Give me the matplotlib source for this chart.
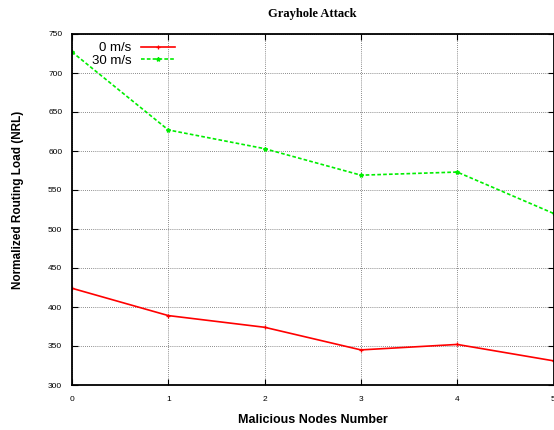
import matplotlib
matplotlib.use('Agg')
import matplotlib.pyplot as plt

# data
malicious_nodes = [0, 1, 2, 3, 4, 5]
nrl_0ms = [424, 389, 374, 345, 352, 331]
nrl_30ms = [727, 627, 603, 569, 573, 520]
series_labels = ['0 m/s', '30 m/s']
y_ticks = [300, 350, 400, 450, 500, 550, 600, 650, 700, 750]

plt.rcParams['font.family'] = ['Liberation Sans', 'DejaVu Sans']

fig = plt.figure(figsize=(5.54, 4.30), dpi=100)
ax = fig.add_axes([72 / 554, 45 / 430, 481.5 / 554, 351 / 430])

ax.plot(malicious_nodes, nrl_0ms, color='#ff0000', lw=1.2, marker='+',
        markersize=3, markeredgewidth=0.9, label=series_labels[0])
ax.plot(malicious_nodes, nrl_30ms, color='#00ee00', lw=1.2, ls=(0, (2.2, 1.3)),
        marker='*', markersize=3, label=series_labels[1])

ax.set_xlim(0, 5)
ax.set_ylim(300, 750)
ax.set_xticks(malicious_nodes)
ax.set_yticks(y_ticks)
ax.tick_params(direction='in', top=True, right=True, length=4, width=0.8,
               labelsize=6, pad=8, colors='black')
ax.tick_params(axis='y', pad=7)
for s in ax.spines.values():
    s.set_linewidth(1.3)

ax.grid(True, color='0.4', ls=(0, (1, 1.5)), lw=0.6)
ax.set_axisbelow(True)

ax.set_xlabel('Malicious Nodes Number', fontsize=9, fontweight='bold', labelpad=8)
ax.set_ylabel('Normalized Routing Load (NRL)', fontsize=8.5, fontweight='bold')
ax.yaxis.set_label_coords(-48 / 481.5, (385 - 200) / 351)
ax.set_title('Grayhole Attack', fontsize=9, fontweight='bold',
             family='Liberation Serif', pad=12)

leg = ax.legend(loc='upper left', frameon=False, markerfirst=False, fontsize=9.5,
                handlelength=2.6, handletextpad=0.7, labelspacing=0.05,
                borderaxespad=0.2, bbox_to_anchor=(0.025, 1.0))

fig.savefig('out.png', dpi=100)
